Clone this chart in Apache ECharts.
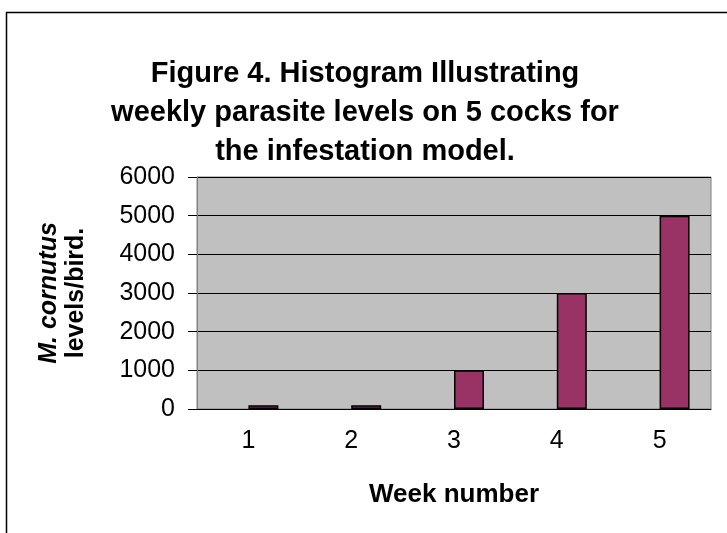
<!DOCTYPE html>
<html><head><meta charset="utf-8">
<script src="https://cdn.jsdelivr.net/npm/echarts@6/dist/echarts.min.js"></script>
<style>html,body{margin:0;padding:0;background:#fff}#c{width:727px;height:533px}</style>
</head><body><div id="c"></div>
<script>
const categories = ['1', '2', '3', '4', '5'];
const parasiteLevels = [100, 100, 1000, 3000, 5000];
const emptySeries = ['-', '-', '-', '-', '-'];
const titleText = 'Figure 4. Histogram Illustrating\nweekly parasite levels on 5 cocks for\nthe infestation model.';

const chart = echarts.init(document.getElementById('c'), null, {renderer: 'canvas'});
const font = 'Liberation Sans, Arial, sans-serif';
chart.setOption({
  animation: false,
  backgroundColor: '#fff',
  title: {
    text: titleText, left: 360, top: 49, textAlign: 'center',
    textStyle: {fontFamily: font, fontSize: 29, fontWeight: 'bold', color: '#000', lineHeight: 39}
  },
  graphic: [{
    type: 'rect', shape: {x: 6.5, y: 12.5, width: 740, height: 540},
    style: {fill: 'none', stroke: '#000', lineWidth: 1.5}, silent: true
  }],
  grid: {left: 197, top: 177, width: 514, height: 232, show: true, backgroundColor: '#C0C0C0', borderColor: '#808080', borderWidth: 1},
  xAxis: {
    type: 'category', data: categories,
    axisLine: {lineStyle: {color: '#000', width: 1}},
    axisTick: {length: 9, lineStyle: {color: '#000'}},
    axisLabel: {fontFamily: font, fontSize: 25, color: '#000', margin: 20},
    name: 'Week number', nameLocation: 'middle', nameGap: 73,
    nameTextStyle: {fontFamily: font, fontSize: 26, fontWeight: 'bold', color: '#000'}
  },
  yAxis: {
    type: 'value', min: 0, max: 6000, interval: 1000,
    axisLine: {show: true, lineStyle: {color: '#808080', width: 1}},
    axisTick: {show: true, length: 9, lineStyle: {color: '#000'}},
    splitLine: {lineStyle: {color: '#000', width: 1}},
    axisLabel: {fontFamily: font, fontSize: 25, color: '#000', margin: 22, formatter: v => String(v)},
    name: '{i|M. cornutus}\n{b|levels/bird.}', nameLocation: 'middle', nameRotate: 90, nameGap: 107,
    nameTextStyle: {
      fontFamily: font, fontSize: 25, color: '#000', lineHeight: 27,
      rich: {
        i: {fontFamily: font, fontSize: 25, fontWeight: 'bold', fontStyle: 'italic', color: '#000', lineHeight: 27},
        b: {fontFamily: font, fontSize: 25, fontWeight: 'bold', color: '#000', lineHeight: 27}
      }
    }
  },
  series: [
    {type: 'bar', data: emptySeries, barWidth: 30, barGap: '0%'},
    {type: 'bar', data: parasiteLevels, barWidth: 30, barGap: '0%',
     itemStyle: {color: '#993366', borderColor: '#000', borderWidth: 1.5}}
  ]
});
</script></body></html>
